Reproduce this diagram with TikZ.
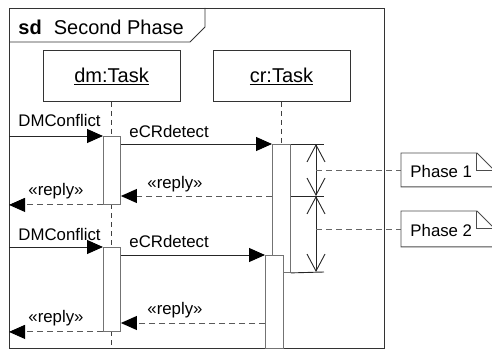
\documentclass[tikz,border=0pt]{standalone}
\usepackage{fontspec}
\setmainfont{Liberation Sans}
\usetikzlibrary{arrows.meta}
\newcommand\objfont{\fontsize{20}{24}\selectfont}
\newcommand\msgfont{\fontsize{16.8}{20}\selectfont}

\begin{document}
\begin{tikzpicture}[x=1pt,y=-1pt,line width=0.9pt,
  framebox/.style={draw=black!80},
  objbox/.style={draw=black!80, minimum width=137pt, minimum height=51pt, inner sep=0pt, font=\objfont},
  actbox/.style={draw=black!55, fill=white, minimum width=17pt, inner sep=0pt, anchor=north west},
  lifeline/.style={draw=black!75, dash pattern=on 5pt off 4pt},
  head/.style={-{Triangle[length=16pt,width=14pt,color=black]}},
  call/.style={draw=black!85, head},
  reply/.style={draw=black!65, dash pattern=on 6pt off 4pt, head},
  msglabel/.style={anchor=base west, inner sep=0pt, font=\msgfont},
  span/.style={draw=black!85, {Straight Barb[length=17pt,width=18pt]}-{Straight Barb[length=17pt,width=18pt]}},
  tick/.style={draw=black!85},
  notebox/.style={draw=black!70},
  noteshape/.style={inner sep=0pt, minimum width=92pt, anchor=north west},
  notelink/.style={draw=black!60, dash pattern=on 6pt off 4pt}
]
\useasboundingbox (0,0) rectangle (492,350);
\clip (0,0) rectangle (492,350);

% interaction frame with its name tab
\node[framebox, minimum width=375pt, minimum height=340pt, inner sep=0pt, anchor=north west] (frame) at (9,8) {};
\draw[framebox] (frame.west |- 0,42) -- (190,42) -- (205,27) -- (205,8);
\node[anchor=base west, inner sep=0pt, font=\objfont] (title) at (18,35) {\textbf{sd}\hspace{0.6em}Second Phase};

% lifeline heads
\node[objbox] (dm) at (111.5,76) {\underline{dm:Task}};
\node[objbox] (cr) at (281.5,76) {\underline{cr:Task}};

% execution specifications (positions)
\coordinate (dmA1pos) at (103,136);
\coordinate (dmA2pos) at (103,247);
\coordinate (crA1pos) at (272,144);
\coordinate (crA2pos) at (265,255);

% dashed lifelines
\draw[lifeline] (dm.south) -- (dm.south |- dmA1pos);
\draw[lifeline] (dm.south |- 0,204) -- (dm.south |- dmA2pos);
\draw[lifeline] (dm.south |- 0,331) -- (dm.south |- frame.south);
\draw[lifeline] (cr.south) -- (cr.south |- crA1pos);

% activation bars
\node[actbox, minimum height=68pt] (dmA1) at (dmA1pos) {};
\node[actbox, minimum height=84pt] (dmA2) at (dmA2pos) {};
\node[actbox, minimum width=18pt, minimum height=128pt] (crA1) at (crA1pos) {};
\node[actbox, minimum width=18pt, minimum height=93pt] (crA2) at (crA2pos) {};

% first round of messages
\draw[call] (frame.west |- dmA1.north) -- (dmA1.north west);
\draw[call] (dmA1.east |- crA1.north) -- (crA1.north west);
\draw[reply] (crA1.west |- 0,196) -- (dmA1.east |- 0,196);
\draw[reply] (dmA1.south west) -- (frame.west |- dmA1.south);
\node[msglabel] at (18,127) {DMConflict};
\node[msglabel] at (129,137) {eCRdetect};
\node[msglabel] at (147,188) {«reply»};
\node[msglabel] at (28,195) {«reply»};

% second round of messages
\draw[call] (frame.west |- dmA2.north) -- (dmA2.north west);
\draw[call] (dmA2.east |- crA2.north) -- (crA2.north west);
\draw[reply] (crA2.west |- 0,323) -- (dmA2.east |- 0,323);
\draw[reply] (dmA2.south west) -- (frame.west |- dmA2.south);
\node[msglabel] at (18,240) {DMConflict};
\node[msglabel] at (129,247) {eCRdetect};
\node[msglabel] at (147,314) {«reply»};
\node[msglabel] at (28,322) {«reply»};

% duration marks
\coordinate (m1) at (316,144);
\coordinate (m2) at (316,196);
\coordinate (m3) at (316,272);
\draw[tick] (crA1.north east) -- (m1 -| 324,0);
\draw[tick] (crA1.east |- m2) -- (m2 -| 324,0);
\draw[tick] (crA1.south east) -- (m3 -| 324,0);
\draw[span] (m1) -- (m2);
\draw[span] (m2) -- (m3);

% notes
\node[noteshape, minimum height=33pt] (p1) at (401,153) {};
\node[noteshape, minimum height=35pt] (p2) at (401,211) {};
\foreach \n in {p1,p2} {
  \draw[notebox] (\n.south west) -- (\n.north west) -- ([xshift=-17pt]\n.north east)
    -- ([yshift=-17pt]\n.north east) -- (\n.south east) -- cycle;
  \draw[notebox] ([xshift=-17pt]\n.north east) -- ([xshift=-17pt,yshift=-17pt]\n.north east)
    -- ([yshift=-17pt]\n.north east);
}
\node[msglabel] at (410,177) {Phase 1};
\node[msglabel] at (410,236) {Phase 2};
\draw[notelink] (m1 |- p1.west) -- (p1.west);
\draw[notelink] (m1 |- p2.west) -- (p2.west);
\end{tikzpicture}
\end{document}
